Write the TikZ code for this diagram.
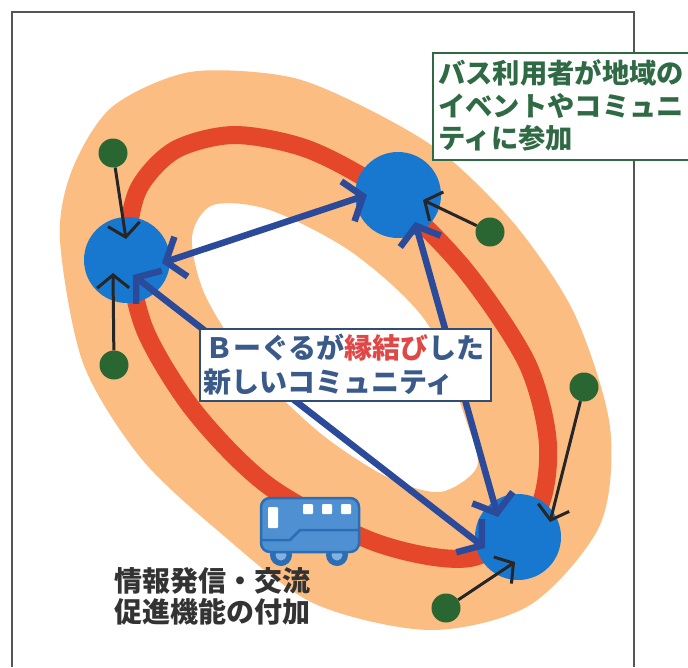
\documentclass[tikz,border=0pt]{standalone}
\usepackage{fontspec}
\newfontfamily\cjk{Noto Sans CJK JP}
\usetikzlibrary{arrows.meta}
\definecolor{ringc}{HTML}{FBBD82}
\definecolor{redc}{HTML}{E4472A}
\definecolor{hubc}{HTML}{1878D0}
\definecolor{dotc}{HTML}{2A6632}
\definecolor{linkc}{HTML}{2B4A9A}
\definecolor{labelblue}{HTML}{3A5A8A}
\definecolor{labelred}{HTML}{E04848}
\definecolor{labelgreen}{HTML}{2F6A45}
\definecolor{framec}{HTML}{555555}
\definecolor{busc}{HTML}{4F90D2}
\definecolor{busd}{HTML}{2A6FB5}
\tikzset{
  hub/.style={circle,fill=hubc,minimum size=86pt,inner sep=0pt},
  dot/.style={circle,fill=dotc,minimum size=29pt,inner sep=0pt},
  tolink/.style={draw=black!85,line width=3pt,-{Straight Barb[length=13pt,width=32pt,line width=3pt]}},
  bilink/.style={draw=linkc,line width=6.5pt,line cap=round,{Straight Barb[length=16pt,width=42pt,line width=6.5pt]}-{Straight Barb[length=16pt,width=42pt,line width=6.5pt]}},
  caption/.style={font=\cjk\bfseries\fontsize{28}{33}\selectfont,align=left,inner sep=0pt,anchor=west},
  gcaption/.style={caption,font=\cjk\bfseries\fontsize{27.3}{33}\selectfont,text=labelgreen},
}
\begin{document}
\begin{tikzpicture}[x=1pt,y=-1pt]
\useasboundingbox (0,0) rectangle (688,667);
\fill[white] (0,0) rectangle (688,667);
\draw[framec,line width=1.6pt] (12,667) -- (12,12) -- (634,12) -- (634,667);
% ring
\fill[ringc,even odd rule] plot[smooth cycle] coordinates {(60,240) (72,170) (112,107) (190,72) (290,77) (370,110) (445,155) (517,227) (575,315) (610,427) (600,525) (530,605) (430,630) (313,603) (217,530) (140,457) (83,363)}
  plot[smooth cycle] coordinates {(192,237) (213,205) (270,210) (353,253) (427,323) (467,423) (477,467) (440,492) (387,477) (320,433) (250,365) (205,295)};
% red loop
\draw[redc,line width=18pt] plot[smooth cycle] coordinates {(128,250) (138,190) (175,150) (235,135) (310,150) (390,195) (465,270) (527,363) (548,445) (535,515) (470,558) (377,543) (270,487) (195,412) (145,330)};
% hubs
\node[hub] (A) at (127,260) {};
\node[hub] (B) at (398,195) {};
\node[hub] (C) at (518,537) {};
% dots
\node[dot] (d1) at (113,153) {};
\node[dot] (d2) at (114,365) {};
\node[dot] (d3) at (490,232) {};
\node[dot] (d4) at (584,387) {};
\node[dot] (d5) at (446,608) {};
% tips inside hubs
\coordinate (t1) at (126,239);
\coordinate (t2) at (113,273);
\coordinate (t3) at (423,200);
\coordinate (t4) at (550,522);
\coordinate (t5) at (515,562);
\coordinate (ab) at (162,263);
\coordinate (ba) at (367,195);
\coordinate (ac) at (133,275);
\coordinate (ca) at (485,548);
\coordinate (bc) at (415,222);
\coordinate (cb) at (498,517);
\draw[tolink] (d1) -- (t1);
\draw[tolink] (d2) -- (t2);
\draw[tolink] (d3) -- (t3);
\draw[tolink] (d4) -- (t4);
\draw[tolink] (d5) -- (t5);
\draw[bilink] (ab) -- (ba);
\draw[bilink] (ac) -- (ca);
\draw[bilink] (bc) -- (cb);
% bus
\begin{scope}
\fill[busd] (281,555) circle (11);
\fill[busd] (337,555) circle (11);
\fill[busc!70!white] (281,555) circle (5.5);
\fill[busc!70!white] (337,555) circle (5.5);
\filldraw[fill=busc,draw=busd,line width=2.5pt,rounded corners=9pt] (261,498) rectangle (359,552);
\draw[busd,line width=2.5pt] (262,540) -- (290,540) -- (300,530) -- (359,530);
\fill[white,rounded corners=1pt] (268,507) rectangle (278,528);
\fill[white,rounded corners=1pt] (303,504) rectangle (313,514);
\fill[white,rounded corners=1pt] (322,504) rectangle (332,514);
\fill[white,rounded corners=1pt] (341,504) rectangle (351,514);
\end{scope}
% community box
\node[draw=labelblue!85!black,line width=1.6pt,fill=white,minimum width=291pt,minimum height=72pt,anchor=north west,inner sep=0pt] (box) at (199,328) {};
\node[caption,text=labelblue] (boxa) at (205,348) {Ｂーぐるが\textcolor{labelred}{縁結び}した};
\node[caption,text=labelblue] (boxb) at (203,382) {新しいコミュニティ};
% green box
\node[draw=labelgreen,line width=2pt,fill=white,minimum width=270pt,minimum height=107pt,anchor=north west,inner sep=0pt] (gbox) at (432,52) {};
\node[gcaption] (g1) at (438,73) {バス利用者が地域の};
\node[gcaption] (g2) at (438,106) {イベントやコミュニ};
\node[gcaption] (g3) at (438,138) {ティに参加};
% caption
\node[caption,text=black!80] (c1) at (114,581) {情報発信・交流};
\node[caption,text=black!80] (c2) at (114,612) {促進機能の付加};
\end{tikzpicture}
\end{document}
